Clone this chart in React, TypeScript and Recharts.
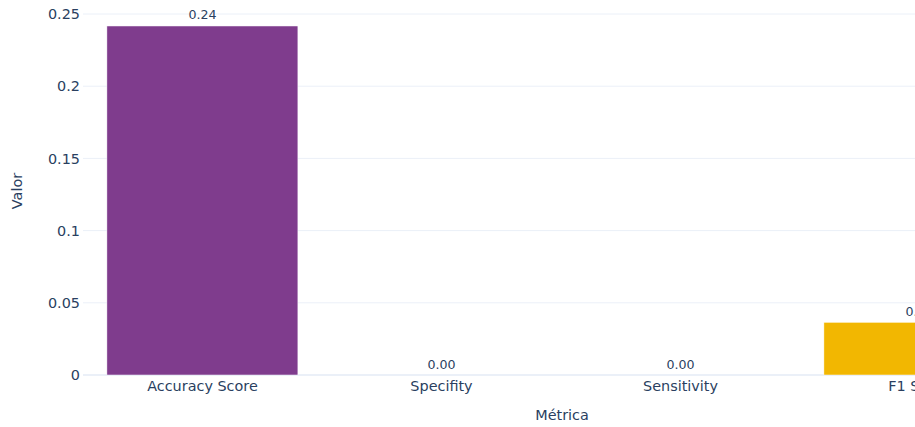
import React from 'react';
import { BarChart, Bar, XAxis, YAxis, CartesianGrid, LabelList, Cell } from 'recharts';

// Metric names and their scores
const metrics = ['Accuracy Score', 'Specifity', 'Sensitivity', 'F1 Score'];
const scores = [0.2417, 0, 0, 0.0365];
const barColors = ['#7F3C8D', '#11A579', '#3969AC', '#F2B701'];
const yTicks = [0, 0.05, 0.1, 0.15, 0.2, 0.25];

const data = metrics.map((m, i) => ({ metric: m, value: scores[i] }));

const FONT = '"DejaVu Sans", Verdana, sans-serif';
const TEXT = '#2a3f5f';
const GRID = '#EBF0F8';

const fmtTick = (v: number) => (v === 0 ? '0' : String(Number(v.toFixed(2))));

const BarShape = (props: any) => {
  const { x, y, width, height, fill } = props;
  return (
    <rect
      x={x}
      y={y}
      width={width}
      height={Math.max(0, height)}
      fill={fill}
      stroke="#ffffff"
      strokeWidth={0.5}
    />
  );
};

// Horizontal grid; the zero line is drawn thicker, nothing along the plot's top edge
const GridLine = (props: any) => {
  const { x1, x2, y1, y2 } = props;
  if (y1 < 12) return <g />;
  const isZero = Math.abs(y1 - 375) < 1;
  return (
    <line
      x1={x1}
      x2={x2}
      y1={y1}
      y2={y2}
      stroke={GRID}
      strokeWidth={isZero ? 2 : 1}
    />
  );
};

export default function App() {
  return (
    <div
      style={{
        position: 'fixed',
        left: 0,
        top: 0,
        width: 915,
        height: 427,
        overflow: 'hidden',
        background: '#fff',
      }}
    >
      <BarChart
        width={1039}
        height={427}
        data={data}
        margin={{ top: 8, right: 0, bottom: 0, left: 0 }}
        barCategoryGap="10%"
      >
        <CartesianGrid vertical={false} horizontal={GridLine} />
        <XAxis
          dataKey="metric"
          axisLine={false}
          tickLine={false}
          tickSize={0}
          tickMargin={6}
          height={52}
          interval={0}
          tick={{ fill: TEXT, fontSize: 14.4, fontFamily: FONT }}
          label={{
            value: 'Métrica',
            position: 'insideBottom',
            offset: 7.5,
            dx: 1,
            fill: TEXT,
            fontSize: 14.4,
            fontFamily: FONT,
          }}
        />
        <YAxis
          width={83}
          domain={[0, 0.25416]}
          ticks={yTicks}
          allowDataOverflow
          axisLine={false}
          tickLine={false}
          tickSize={0}
          tickMargin={3}
          tickFormatter={fmtTick}
          tick={{ fill: TEXT, fontSize: 14.4, fontFamily: FONT }}
          label={{
            content: () => (
              <text
                x={22}
                y={191}
                transform="rotate(-90, 22, 191)"
                textAnchor="middle"
                fill={TEXT}
                fontSize={14.4}
                fontFamily={FONT}
              >
                Valor
              </text>
            ),
          }}
        />
        <Bar dataKey="value" isAnimationActive={false} shape={BarShape}>
          {data.map((d, i) => (
            <Cell key={d.metric} fill={barColors[i]} />
          ))}
          <LabelList
            dataKey="value"
            position="top"
            offset={6.5}
            formatter={(v: any) => Number(v).toFixed(2)}
            fill={TEXT}
            fontSize={12.6}
            fontFamily={FONT}
          />
        </Bar>
      </BarChart>
    </div>
  );
}
